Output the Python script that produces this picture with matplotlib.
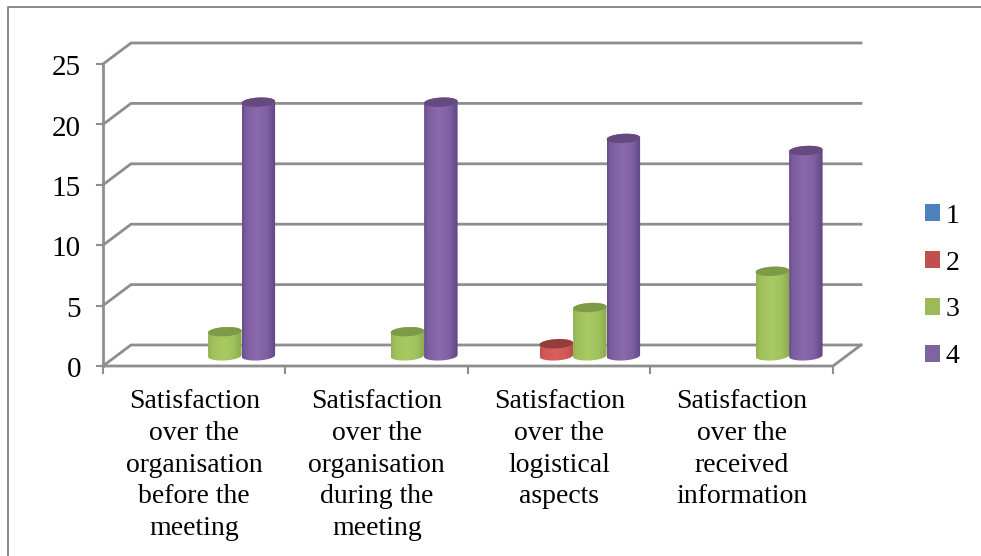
import numpy as np
import matplotlib
matplotlib.use("Agg")
import matplotlib.pyplot as plt
from matplotlib.patches import Patch, PathPatch
from matplotlib.path import Path

categories = [
    "Satisfaction\nover the\norganisation\nbefore the\nmeeting",
    "Satisfaction\nover the\norganisation\nduring the\nmeeting",
    "Satisfaction\nover the\nlogistical\naspects",
    "Satisfaction\nover the\nreceived\ninformation",
]
series_names = ["1", "2", "3", "4"]
values_1 = [0, 0, 0, 0]
values_2 = [0, 0, 1, 0]
values_3 = [2, 2, 4, 7]
values_4 = [21, 21, 18, 17]
y_ticks = [0, 5, 10, 15, 20, 25]

# side colour, highlight, top cap
colors = [
    ("#4f81bd", "#6b9bd6", "#3f6a9e"),
    ("#b94a47", "#d9605c", "#963c3a"),
    ("#8aa84c", "#a8ca62", "#7c9a48"),
    ("#5c4580", "#8a69ad", "#65497f"),
]
legend_colors = ["#4f81bd", "#c0504d", "#9bbb59", "#8064a2"]

W, H = 981, 556
PX_X = 182.5   # pixels per category
PX_Y = 12.08   # pixels per value unit
X0, Y0 = 103, 366   # pixel position of the front corner (0, 0)

GRID = "#8e8e8e"
FONT = "Liberation Serif"

fig = plt.figure(figsize=(W / 100, H / 100), dpi=100)
ax = fig.add_axes([0, 0, 1, 1])
ax.axis("off")
xlim = (-X0 / PX_X, (W - X0) / PX_X)
ylim = (-(H - Y0) / PX_Y, Y0 / PX_Y)

# depth of the floor, in data units
dx = 28 / PX_X
dy = 21 / PX_Y
n = len(categories)

# frame around the chart
ax.plot([xlim[0] + 8 / PX_X, xlim[0] + 8 / PX_X, xlim[1]],
        [ylim[0], ylim[1] - 7 / PX_Y, ylim[1] - 7 / PX_Y],
        color="#8a8a8a", lw=1.4, zorder=1)

# back wall lines and left wall diagonals
for t in y_ticks:
    ax.plot([0, dx, n + dx], [t, t + dy, t + dy], color=GRID, lw=2.0, zorder=2,
            solid_joinstyle="miter")
    ax.plot([-6 / PX_X, 0], [t, t], color=GRID, lw=1.5, zorder=2)
    ax.text(-22 / PX_X, t - 0.35, str(t), ha="right", va="center", fontsize=21,
            family=FONT, color="black")

# floor and axes
ax.plot([0, 0], [0, y_ticks[-1]], color=GRID, lw=2.0, zorder=2)
ax.plot([0, n, n + dx], [0, 0, dy], color=GRID, lw=2.0, zorder=2)
for i in range(n + 1):
    ax.plot([i, i], [0, -7 / PX_Y], color=GRID, lw=1.5, zorder=2)

bar_w = 33.5 / PX_X
gap = 0.132
a = bar_w / 2
b = 4.6 / PX_Y     # half height of the ellipses
tilt = 0.9 / PX_Y  # ends of the ellipses lean up to the right


def ring(cx, cy, t):
    return cx + a * np.cos(t), cy + b * np.sin(t) + tilt * np.cos(t)


def cylinder(cx, base, top, cols, z):
    side, light, cap = cols
    t1 = np.linspace(np.pi, 2 * np.pi, 60)
    t2 = np.linspace(0, np.pi, 60)
    bx, by = ring(cx, base, t1)
    tx, ty = ring(cx, top, t2)
    verts = np.column_stack([np.r_[bx, tx], np.r_[by, ty]])
    outline = Path(np.vstack([verts, verts[0]]), closed=True)

    # shading runs across the cylinder, brightest just left of centre
    s = np.linspace(0, 1, 128)
    rgb_dark = np.array(matplotlib.colors.to_rgb(side))
    rgb_light = np.array(matplotlib.colors.to_rgb(light))
    k = np.clip(np.interp(s, [0, 0.12, 0.45, 0.75, 1], [0.25, 0.7, 1, 0.75, 0.05]), 0, 1)
    grad = (rgb_dark + (rgb_light - rgb_dark) * k[:, None])[None, :, :]
    im = ax.imshow(grad, extent=(cx - a, cx + a, base - b - tilt, top + b + tilt),
                   aspect="auto", zorder=z, interpolation="bilinear")
    clip = PathPatch(outline, transform=ax.transData, fc="none", ec="none")
    ax.add_patch(clip)
    im.set_clip_path(clip)

    t = np.linspace(0, 2 * np.pi, 120)
    ex, ey = ring(cx, top, t)
    ax.fill(ex, ey, color=cap, lw=0, zorder=z + 0.1)


mid_y = dy / 2 - 0.03
all_series = [values_1, values_2, values_3, values_4]
for j, vals in enumerate(all_series):
    for i, v in enumerate(vals):
        if v == 0:
            continue
        cx = i + gap + dx / 2 + (j + 0.5) * bar_w
        cylinder(cx, mid_y, mid_y + v, colors[j], 3 + j + i * 0.01)

# category labels
for i, label in enumerate(categories):
    ax.text(i + 0.5, -23.5 / PX_Y, label, ha="center", va="top", fontsize=20,
            family=FONT, color="black", linespacing=1.35)

handles = [Patch(fc=c, ec="none") for c in legend_colors]
ax.legend(handles, series_names, loc="center left", bbox_to_anchor=(925 / W, 1 - 286.5 / H),
          frameon=False, prop={"family": FONT, "size": 20}, handlelength=0.54,
          handleheight=0.54, handletextpad=0.2, labelspacing=0.79,
          borderpad=0, borderaxespad=0, bbox_transform=fig.transFigure)

ax.set_xlim(xlim)
ax.set_ylim(ylim)
fig.savefig("out.png", dpi=100, facecolor="white")
